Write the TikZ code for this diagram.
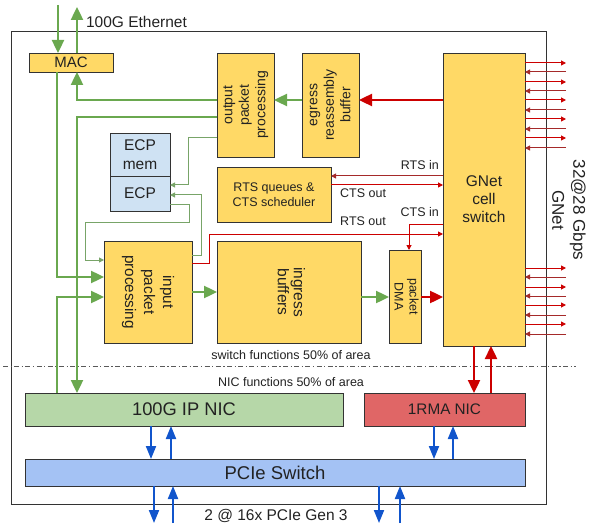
\documentclass[tikz,border=0pt]{standalone}
\usepackage{fontspec}
\usepackage{graphicx}
\setmainfont{Liberation Sans}
\usetikzlibrary{arrows.meta}
\definecolor{boxy}{HTML}{FFD966}
\definecolor{boxb}{HTML}{CFE2F3}
\definecolor{nicg}{HTML}{B6D7A8}
\definecolor{nicr}{HTML}{E06666}
\definecolor{pcieb}{HTML}{A4C2F4}
\definecolor{gline}{HTML}{6AA84F}
\definecolor{glinet}{HTML}{78A468}
\definecolor{rline}{HTML}{CC0000}
\definecolor{rlined}{HTML}{A52A2A}
\definecolor{bline}{HTML}{1155CC}
\definecolor{edge}{HTML}{333333}
\definecolor{txt}{HTML}{222222}
\newcommand\myfs[2]{\fontsize{#1}{#2}\selectfont}
\newcommand\rotlines[2]{\rotatebox{#1}{\begin{tabular}{@{}c@{}}#2\end{tabular}}}
\begin{document}
\begin{tikzpicture}[x=1pt,y=-1pt,
  blk/.style={draw=edge, line width=0.9pt, inner sep=0pt, outer sep=0pt, text=txt, align=center},
  yb/.style={blk, fill=boxy},
  gthick/.style={draw=gline, line width=2.4pt, -{Triangle[length=13pt,width=12pt]}},
  gthin/.style={draw=glinet, line width=1pt, -{Triangle[length=5pt,width=5pt]}},
  rthick/.style={draw=rline, line width=2.4pt, -{Triangle[length=13pt,width=12pt]}},
  rthin/.style={draw=rline, line width=1pt, -{Triangle[length=5pt,width=5pt]}},
  bthick/.style={draw=bline, line width=2pt, -{Triangle[length=13pt,width=10pt]}},
  lbl/.style={text=txt, inner sep=0pt, font=\myfs{12.5}{15}},
]
\useasboundingbox (0,0) rectangle (596,529);

% guide coordinates
\coordinate (x57) at (57,0);
\coordinate (x77) at (77,0);
\coordinate (x409) at (409,0);
\coordinate (x474) at (474,0);
\coordinate (x491) at (491,0);
\coordinate (x151) at (151,0);
\coordinate (x171) at (171,0);
\coordinate (x434) at (434,0);
\coordinate (x453) at (453,0);
\foreach \v in {100,117,138,176,185,195,205,224,234,255,260,263,277,292,297}{\coordinate (y\v) at (0,\v);}
\coordinate (ethin) at (58,5);
\coordinate (ethout) at (77,7);
\coordinate (po1) at (154,523);
\coordinate (pi1) at (173,523);
\coordinate (po2) at (379,523);
\coordinate (pi2) at (400,523);

% chip outline
\node[draw=edge, line width=1pt, minimum width=535pt, minimum height=472pt, inner sep=0pt, outer sep=0pt] (chip) at (278.5,268) {};

% separation line
\draw[draw=gray!70!black, line width=0.9pt, dash pattern=on 5pt off 2.5pt on 1.2pt off 2.5pt] (3,366) -- (576,366);

% boxes
\node[yb, minimum width=84pt, minimum height=19pt, font=\myfs{15}{18}] (mac) at (71,62.5) {MAC};
\node[yb, minimum width=57pt, minimum height=104pt, font=\myfs{14}{16.5}] (outpp) at (245.5,105) {\rotlines{90}{output\\packet\\processing}};
\node[yb, minimum width=57pt, minimum height=104pt, font=\myfs{14}{16.5}] (egress) at (330.5,105) {\rotlines{90}{egress\\reassembly\\buffer}};
\node[yb, minimum width=82pt, minimum height=293pt, font=\myfs{15.5}{18}] (gnet) at (484,199.5) {GNet\\cell\\switch};
\node[blk, fill=boxb, minimum width=60pt, minimum height=43pt, font=\myfs{15.5}{19}] (ecpmem) at (140,154.5) {ECP\\mem};
\node[blk, fill=boxb, minimum width=60pt, minimum height=35pt, font=\myfs{15.5}{19}] (ecp) at (140,193.5) {ECP};
\node[yb, minimum width=114pt, minimum height=55pt, font=\myfs{12.5}{15}] (rts) at (274,194.5) {RTS queues \&\\CTS scheduler};
\node[yb, minimum width=88pt, minimum height=102pt, font=\myfs{15.3}{19}] (inpp) at (148,292) {\rotlines{-90}{input\\packet\\processing}};
\node[yb, minimum width=144pt, minimum height=102pt, font=\myfs{15.5}{16}] (ingress) at (289,292) {\rotlines{-90}{ingress\\buffers}};
\node[yb, minimum width=32pt, minimum height=93pt, font=\myfs{12.5}{15}] (dma) at (405,296.5) {\rotlines{-90}{packet\\DMA}};
\node[blk, fill=nicg, minimum width=318pt, minimum height=33pt, font=\myfs{18.3}{20}] (ipnic) at (184,409.5) {100G IP NIC};
\node[blk, fill=nicr, minimum width=161pt, minimum height=33pt, font=\myfs{15.3}{18}] (rma) at (444.5,409.5) {1RMA NIC};
\node[blk, fill=pcieb, minimum width=500pt, minimum height=27pt, font=\myfs{18.5}{20}] (pcie) at (275,472.5) {PCIe Switch};

% labels
\node[lbl, font=\myfs{15.5}{18}] (ethlbl) at (136.5,22) {100G Ethernet};
\node[lbl] (swlbl) at (291,355) {switch functions 50\% of area};
\node[lbl] (niclbl) at (291,382) {NIC functions 50\% of area};
\node[lbl, font=\myfs{15.5}{18}] (pcielbl) at (276,516) {2 @ 16x PCIe Gen 3};
\node[lbl, rotate=-90, align=center, font=\myfs{17}{21}] (gnetlbl) at (569,210) {32@28 Gbps\\GNet};
\node[lbl, anchor=east] (rtsin) at (439,165) {RTS in};
\node[lbl, anchor=west] (ctsout) at (340,193) {CTS out};
\node[lbl, anchor=west] (rtsout) at (340,221) {RTS out};
\node[lbl, anchor=east] (ctsin) at (439,212) {CTS in};

% Ethernet
\draw[gthick] (ethin) -- (mac.north -| ethin);
\draw[gthick] (mac.north -| ethout) -- (ethout);

% thick green datapath
\draw[gthick] (mac.south -| x57) |- (inpp.west |- y277);
\draw[gthick] (ipnic.north -| x57) |- (inpp.west |- y297);
\draw[gthick] (outpp.west |- y100) -| (mac.south -| x77);
\draw[gthick] (outpp.west |- y117) -| (ipnic.north -| x77);
\draw[gthick] (egress.west |- y100) -- (outpp.east |- y100);
\draw[gthick] (inpp.east |- y292) -- (ingress.west |- y292);
\draw[gthick] (ingress.east |- y297) -- (dma.west |- y297);

% thin green ECP links
\draw[gthin] (outpp.west |- y138) -- ++(-29,0) |- (ecp.east |- y185);
\draw[gthin] (inpp.east |- y255) -- ++(9,0) |- (ecp.east |- y195);
\draw[gthin] (ecp.east |- y205) -- ++(19,0) -- ++(0,17) -- ++(-104,0) |- (inpp.west |- y260);

% red
\draw[rthick] (gnet.west |- y100) -- (egress.east |- y100);
\draw[rthick] (dma.east |- y297) -- (gnet.west |- y297);
\draw[rthick] (gnet.south -| x474) -- (rma.north -| x474);
\draw[rthick] (rma.north -| x491) -- (gnet.south -| x491);
\draw[rthin, draw=rlined] (gnet.west |- y176) -- (rts.east |- y176);
\draw[rthin] (rts.east |- y185) -- (gnet.west |- y185);
\draw[rthin] (inpp.east |- y263) -- ++(17,0) |- (gnet.west |- y234);
\draw[rthin] (gnet.west |- y224) -| (dma.north -| x409);

% GNet links
\foreach \yy [count=\i] in {63,72,82,91,100,110,119,129,138,148,268,277,287,296,305,315,324,334}{
  \coordinate (r\i) at (566,\yy);
  \ifodd\i
    \draw[rthin] (gnet.east |- r\i) -- (r\i);
  \else
    \draw[rthin, draw=rlined] (r\i) -- (gnet.east |- r\i);
  \fi
}

% blue PCIe
\draw[bthick] (ipnic.south -| x151) -- (pcie.north -| x151);
\draw[bthick] (pcie.north -| x171) -- (ipnic.south -| x171);
\draw[bthick] (rma.south -| x434) -- (pcie.north -| x434);
\draw[bthick] (pcie.north -| x453) -- (rma.south -| x453);
\draw[bthick] (pcie.south -| po1) -- (po1);
\draw[bthick] (pi1) -- (pcie.south -| pi1);
\draw[bthick] (pcie.south -| po2) -- (po2);
\draw[bthick] (pi2) -- (pcie.south -| pi2);
\end{tikzpicture}
\end{document}
